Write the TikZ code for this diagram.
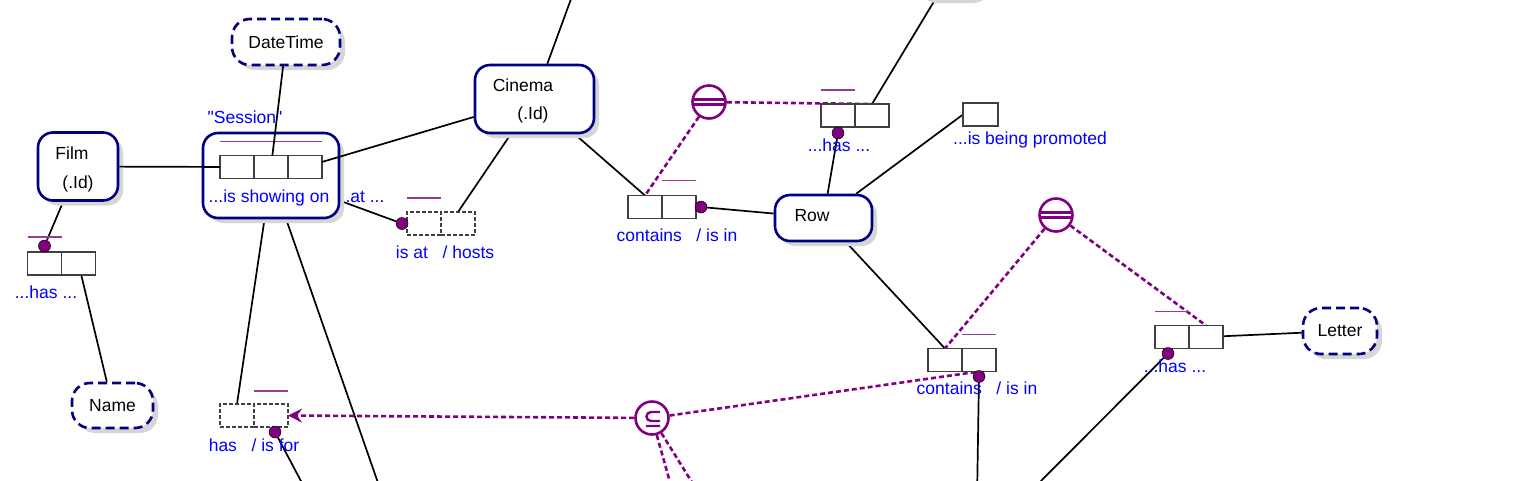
\documentclass[tikz,border=0pt]{standalone}
\usepackage{fontspec}
\setmainfont{Liberation Sans}
\usetikzlibrary{arrows.meta, positioning, shadows, backgrounds}
\definecolor{ormnavy}{RGB}{0,0,128}
\definecolor{ormblue}{RGB}{0,0,255}
\definecolor{ormpurple}{RGB}{128,0,128}
\definecolor{ormbar}{RGB}{150,60,150}
\definecolor{ormshadow}{RGB}{214,214,214}

\begin{document}
\begin{tikzpicture}[x=1pt, y=-1pt,
  every node/.style={font=\fontsize{17.5}{21}\selectfont},
  entity/.style ={rectangle, draw=ormnavy, line width=2.6pt, rounded corners=15pt,
                  fill=white, inner sep=0pt,
                  drop shadow={shadow xshift=5pt, shadow yshift=-5pt, fill=ormshadow, opacity=1}},
  valtype/.style={entity, rounded corners=18pt, dash pattern=on 9pt off 5pt},
  role/.style   ={rectangle, draw=black!75, line width=1.2pt, fill=white,
                  minimum width=34pt, minimum height=23pt, inner sep=0pt, outer sep=0pt},
  drole/.style  ={role, dash pattern=on 4pt off 2pt},
  mand/.style   ={circle, fill=ormpurple, draw=black, line width=0.5pt,
                  minimum size=12pt, inner sep=0pt},
  rdg/.style    ={text=ormblue, anchor=base, inner sep=0pt},
  ename/.style  ={anchor=base, inner sep=0pt},
  link/.style   ={line width=1.7pt},
  cons/.style   ={draw=ormpurple, line width=2.6pt, dash pattern=on 5pt off 3pt},
  ubar/.style   ={draw=ormbar, line width=1.8pt},
  cnode/.style  ={circle, draw=ormpurple, line width=2.6pt, fill=white,
                  minimum size=33pt, inner sep=0pt},
  csym/.style   ={draw=ormpurple, line width=2.4pt},
]
\useasboundingbox (0,0) rectangle (1518,480);
\clip (0,0) rectangle (1518,480);

% Object types
\node[entity, minimum width=80pt, minimum height=68pt]   (film)   at (78,166.5)  {};
\node[ename] (filmT)  at (72,159)  {Film};
\node[ename] (filmId) at (78,188)  {(.Id)};
\node[entity, minimum width=119pt, minimum height=68pt]  (cinema) at (534.5,99)  {};
\node[ename] (cinT)   at (523,91)  {Cinema};
\node[ename] (cinId)  at (533,119) {(.Id)};
\node[entity, minimum width=97pt, minimum height=46pt]   (row)    at (823.5,218) {};
\node[ename] (rowT)   at (812,221) {Row};
\node[entity, minimum width=136pt, minimum height=85pt]  (sess)   at (271,175.5) {};
\node[rdg]   (sesT)   at (245,123) {\textquotedbl Session\textquotedbl};

\node[valtype, minimum width=108pt, minimum height=46pt] (dt)     at (286,42)    {DateTime};
\node[valtype, minimum width=81pt, minimum height=45pt]  (name)   at (112.5,405.5) {Name};
\node[valtype, minimum width=74pt, minimum height=46pt]  (letter) at (1340,331)  {Letter};
\node[valtype, minimum width=72pt, minimum height=46pt]  (topvt)  at (950,-25)   {};

% Fact types
\node[role]                   (fh1) at (44.5,263.5) {};
\node[role, right=0pt of fh1] (fh2) {};
\node[role]                   (ss1) at (237,167) {};
\node[role, right=0pt of ss1] (ss2) {};
\node[role, right=0pt of ss2] (ss3) {};
\node[drole]                  (ia1) at (424,223.5) {};
\node[drole, right=0pt of ia1] (ia2) {};
\node[role]                   (cr1) at (645,207) {};
\node[role, right=0pt of cr1] (cr2) {};
\node[role]                   (rh1) at (838,115.5) {};
\node[role, right=0pt of rh1] (rh2) {};
\node[role, minimum width=35pt] (rp) at (980.5,114.5) {};
\node[role]                   (rc1) at (945,360) {};
\node[role, right=0pt of rc1] (rc2) {};
\node[role]                   (lh1) at (1172,337) {};
\node[role, right=0pt of lh1] (lh2) {};
\node[drole]                  (hf1) at (237,415.5) {};
\node[drole, right=0pt of hf1] (hf2) {};

% Uniqueness
\draw[ubar] ([yshift=15pt]fh1.north west) -- ([yshift=15pt]fh1.north east);
\draw[ubar] ([yshift=14pt]ss1.north west) -- ([yshift=14pt]ss3.north east);
\draw[ubar] ([yshift=14pt]ia1.north west) -- ([yshift=14pt]ia1.north east);
\draw[ubar] ([yshift=15pt]cr2.north west) -- ([yshift=15pt]cr2.north east);
\draw[ubar] ([yshift=14pt]rh1.north west) -- ([yshift=14pt]rh1.north east);
\draw[ubar] ([yshift=14pt]rc2.north west) -- ([yshift=14pt]rc2.north east);
\draw[ubar] ([yshift=14pt]lh1.north west) -- ([yshift=14pt]lh1.north east);
\draw[ubar] ([yshift=13pt]hf2.north west) -- ([yshift=13pt]hf2.north east);

% Mandatory dots
\node[mand] (fhd) at ([yshift=6pt]fh1.north) {};
\node[mand] (iad) at ([xshift=-5pt]ia1.west) {};
\node[mand] (crd) at ([xshift=5pt]cr2.east) {};
\node[mand] (rhd) at ([yshift=-6pt]rh1.south) {};
\node[mand] (rcd) at ([yshift=-5pt]rc2.south) {};
\node[mand] (lhd) at ([xshift=-4pt,yshift=-5pt]lh1.south) {};
\node[mand] (hfd) at ([xshift=4pt,yshift=-5pt]hf2.south) {};

% Readings
\node[rdg] (fhT) at (46,298)   {...has ...};
\node[rdg] (ssT) at (269,202)  {...is showing on};
\node[rdg] (atT) at (365,202)  {.at ...};
\node[rdg] (iaT) at (445,258)  {is at\ \ \ / hosts};
\node[rdg] (crT) at (677,241)  {contains\ \ \ / is in};
\node[rdg] (rhT) at (839,151)  {...has ...};
\node[rdg] (rpT) at (1030,144) {...is being promoted};
\node[rdg] (rcT) at (977,394)  {contains\ \ \ / is in};
\node[rdg] (lhT) at (1175,372) {...has ...};
\node[rdg] (hfT) at (254,451)  {has\ \ \ / is for};

% Constraints
\node[cnode] (eq1) at (709,102) {};
\node[cnode] (eq2) at (1056,215) {};
\foreach \eqn in {eq1,eq2} {
  \draw[csym] ([xshift=-16pt,yshift=2.4pt]\eqn.center) -- ([xshift=16pt,yshift=2.4pt]\eqn.center);
  \draw[csym] ([xshift=-16pt,yshift=-2.4pt]\eqn.center) -- ([xshift=16pt,yshift=-2.4pt]\eqn.center);
}
\node[cnode] (sub) at (652,418) {};
\draw[csym, shift={(sub)}] (8,-6) -- (-1,-6) arc[start angle=270, end angle=90, radius=4.5] -- (8,3)
                           (-6,8) -- (8,8);

% Off-picture ends
\coordinate (t1) at (575,-12);
\coordinate (b1) at (384,500);
\coordinate (b2) at (311,500);
\coordinate (b3) at (675,500);
\coordinate (b4) at (703,500);
\coordinate (b5) at (977,500);
\coordinate (b6) at (1022,500);

% Role links over the objectified box
\draw[link] (film) -- (ss1);
\draw[link] (dt)   -- (ss2);
\draw[link] (ss3)  -- (cinema);

\begin{scope}[on background layer]
\draw[link] (film)      -- (fhd);
\draw[link] (fh2)       -- (name);
\draw[link] (sess)      -- (iad);
\draw[link] (ia2.north) -- (cinema);
\draw[link] (t1)        -- (cinema);
\draw[link] (cinema)    -- (cr1.north);
\draw[link] (crd)       -- (row);
\draw[link] (rhd)       -- (row);
\draw[link] (rh2.north) -- (topvt);
\draw[link] (row)       -- (rp.west);
\draw[link] (row)       -- (rc1.north);
\draw[link] (lh2)       -- (letter);
\draw[link] (lhd)       -- (b6);
\draw[link] (rcd)       -- (b5);
\draw[link] (sess)      -- (hf1.north);
\draw[link] (sess)      -- (b1);
\draw[link] (hfd)       -- (b2);

\draw[cons] (eq1) -- (rh2.north);
\draw[cons] (eq1) -- (cr1.north);
\draw[cons] (eq2) -- (rc1.north);
\draw[cons] (eq2) -- (lh2.north);
\draw[cons, -{Stealth[length=14pt, width=14pt, inset=5pt]}] (sub) -- (hf2.east);
\draw[cons] (sub) -- (rc2.south);
\draw[cons] (sub) -- (b3);
\draw[cons] (sub) -- (b4);
\end{scope}
\end{tikzpicture}
\end{document}
